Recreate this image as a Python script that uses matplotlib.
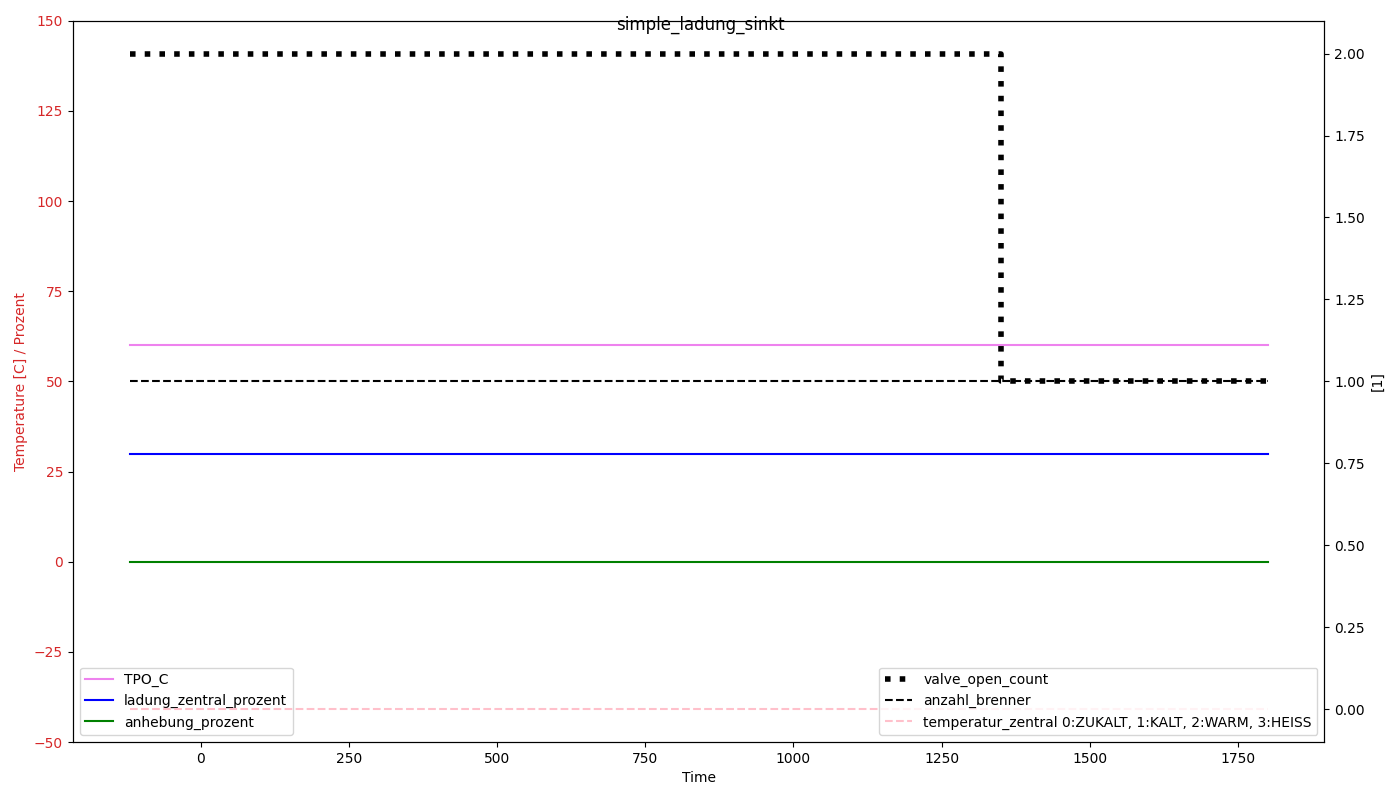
import matplotlib
matplotlib.use('Agg')
import matplotlib.pyplot as plt

# data
time = [-120, 1350, 1800]
tpo_c = [60, 60, 60]
ladung_zentral_prozent = [30, 30, 30]
anhebung_prozent = [0, 0, 0]
valve_open_count = [2, 1, 1]
anzahl_brenner = [1, 1, 1]
temperatur_zentral = [0, 0, 0]

fig, ax = plt.subplots(figsize=(14, 8), dpi=100)
fig.suptitle('simple_ladung_sinkt')

ax.plot(time, tpo_c, color='violet', label='TPO_C')
ax.plot(time, ladung_zentral_prozent, color='blue', label='ladung_zentral_prozent')
ax.plot(time, anhebung_prozent, color='green', label='anhebung_prozent')
ax.set_ylim(-50, 150)
ax.set_xlabel('Time')
ax.set_ylabel('Temperature [C] / Prozent', color='tab:red')
ax.tick_params(axis='y', labelcolor='tab:red')
ax.legend(loc='lower left')

ax2 = ax.twinx()
ax2.plot(time, valve_open_count, color='black', linestyle=':', linewidth=4,
         drawstyle='steps-post', label='valve_open_count')
ax2.plot(time, anzahl_brenner, color='black', linestyle='--', label='anzahl_brenner')
ax2.plot(time, temperatur_zentral, color='pink', linestyle='--',
         label='temperatur_zentral 0:ZUKALT, 1:KALT, 2:WARM, 3:HEISS')
ax2.set_ylabel('[1]')
ax2.legend(loc='lower right')

fig.subplots_adjust(left=0.052, right=0.946, top=0.974, bottom=0.0725)
plt.savefig('out.png')
